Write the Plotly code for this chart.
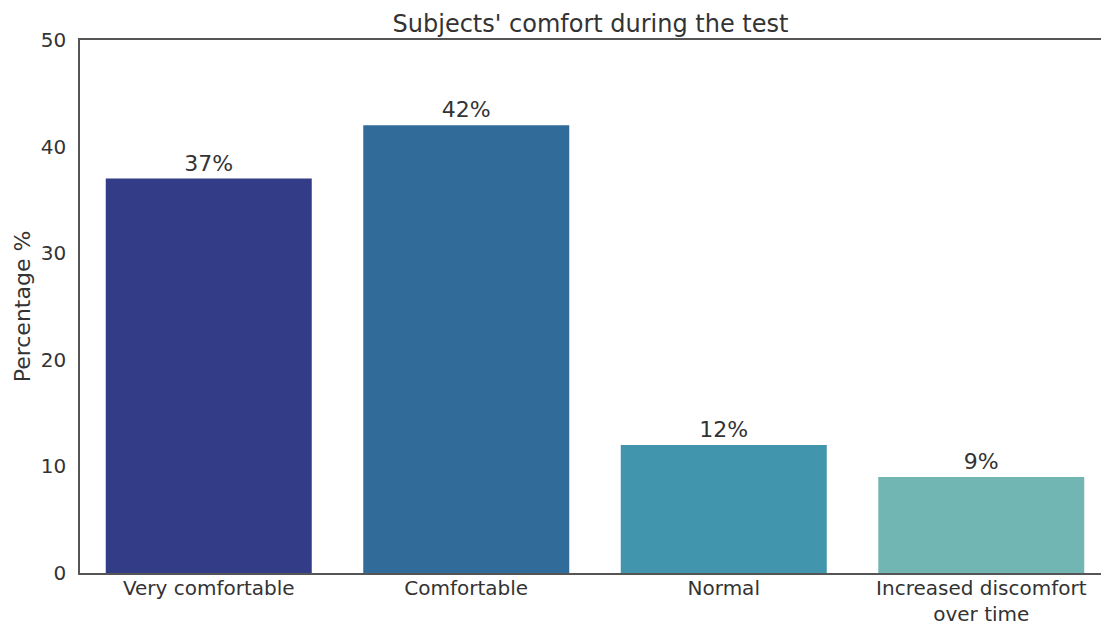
import plotly.graph_objects as go

categories = ["Very comfortable", "Comfortable", "Normal", "Increased discomfort<br>over time"]
values = [37, 42, 12, 9]
labels = ["37%", "42%", "12%", "9%"]
colors = ["#333d87", "#306b99", "#4196ae", "#72b6b4"]

fig = go.Figure()
fig.add_trace(go.Bar(
    x=categories, y=values, text=labels, textposition="outside",
    marker=dict(color=colors, line=dict(width=0)),
    textfont=dict(size=22, color="#333333", family="DejaVu Sans"),
    cliponaxis=False, width=0.8,
))

fig.update_layout(
    width=1101, height=631,
    margin=dict(l=80, r=0, t=40, b=58, autoexpand=False),
    paper_bgcolor="white", plot_bgcolor="white",
    font=dict(family="DejaVu Sans", color="#333333", size=20),
    title=dict(text="Subjects' comfort during the test", x=0.5, xref="paper",
               y=1, yref="paper", yanchor="bottom", pad=dict(b=8),
               font=dict(size=24, color="#333333")),
    showlegend=False,
    bargap=0.2,
)
fig.update_xaxes(
    range=[-0.5, 3.465], showline=True, linecolor="#555555", linewidth=1.5,
    mirror=True, ticks="", showgrid=False, automargin=False,
    ticklabelstandoff=-4, tickfont=dict(size=20, color="#333333"),
)
fig.update_yaxes(
    range=[0, 50], tickvals=[0, 10, 20, 30, 40, 50], showline=True,
    linecolor="#555555", linewidth=1.5, ticks="", showgrid=False, zeroline=False,
    automargin=False, ticklabelstandoff=8, tickfont=dict(size=20, color="#333333"),
    title=dict(text="Percentage %", font=dict(size=22, color="#333333"), standoff=4),
)

fig.write_html(
    "out.html",
    config={"displayModeBar": False},
    post_script="document.body.style.margin='0';document.body.style.overflow='hidden';",
)
